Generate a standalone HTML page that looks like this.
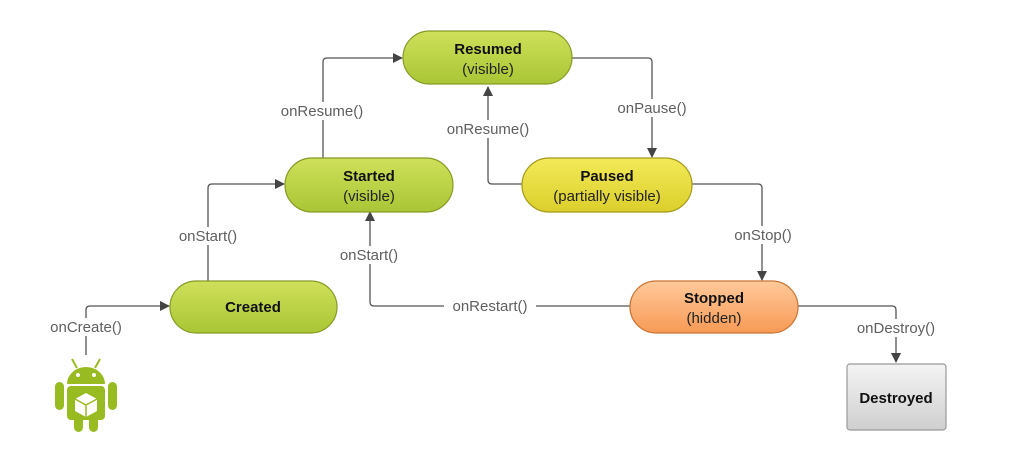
<!DOCTYPE html>
<html><head><meta charset="utf-8"><style>
html,body{margin:0;padding:0;background:#fff;width:1022px;height:465px;overflow:hidden}
text{font-family:"Liberation Sans",Arial,sans-serif}
.l{font-size:15px;fill:#5f5f5f;text-anchor:middle}
.b{font-size:15px;font-weight:bold;fill:#111;text-anchor:middle}
.n{font-size:15px;fill:#222;text-anchor:middle}
</style></head><body>
<svg width="1022" height="465" viewBox="0 0 1022 465" xmlns="http://www.w3.org/2000/svg">
<defs>
<linearGradient id="g" x1="0" y1="0" x2="0" y2="1"><stop offset="0" stop-color="#cfe05a"/><stop offset="1" stop-color="#a9c635"/></linearGradient>
<linearGradient id="y" x1="0" y1="0" x2="0" y2="1"><stop offset="0" stop-color="#f2ea58"/><stop offset="1" stop-color="#dccf2c"/></linearGradient>
<linearGradient id="o" x1="0" y1="0" x2="0" y2="1"><stop offset="0" stop-color="#ffc99a"/><stop offset="1" stop-color="#f79a55"/></linearGradient>
<linearGradient id="d" x1="0" y1="0" x2="0" y2="1"><stop offset="0" stop-color="#f4f4f4"/><stop offset="1" stop-color="#cfcfcf"/></linearGradient>
<marker id="a" markerWidth="10" markerHeight="10" refX="9" refY="5" orient="auto" markerUnits="userSpaceOnUse"><path d="M0,0 L10,5 L0,10 z" fill="#444"/></marker>
</defs>
<g fill="none" stroke="#555" stroke-width="1.3">
<path d="M86,355 V310 Q86,306 90,306 H169" marker-end="url(#a)"/>
<path d="M208,281 V188 Q208,184 212,184 H284" marker-end="url(#a)"/>
<path d="M323,158 V62 Q323,58 327,58 H402" marker-end="url(#a)"/>
<path d="M572,58 H648 Q652,58 652,62 V157" marker-end="url(#a)"/>
<path d="M522,184 H492 Q488,184 488,180 V87" marker-end="url(#a)"/>
<path d="M692,184 H758 Q762,184 762,188 V280" marker-end="url(#a)"/>
<path d="M630,306 H374 Q370,306 370,302 V212" marker-end="url(#a)"/>
<path d="M798,306 H892 Q896,306 896,310 V362" marker-end="url(#a)"/>
</g>
<g>
<rect x="42" y="318" width="88" height="18" fill="#fff"/><text x="86" y="332" class="l">onCreate()</text>
<rect x="170" y="227" width="76" height="18" fill="#fff"/><text x="208" y="241" class="l">onStart()</text>
<rect x="274" y="102" width="98" height="18" fill="#fff"/><text x="322" y="116" class="l">onResume()</text>
<rect x="610" y="99" width="84" height="18" fill="#fff"/><text x="652" y="113" class="l">onPause()</text>
<rect x="440" y="120" width="98" height="18" fill="#fff"/><text x="488" y="134" class="l">onResume()</text>
<rect x="728" y="226" width="70" height="18" fill="#fff"/><text x="763" y="240" class="l">onStop()</text>
<rect x="332" y="246" width="74" height="18" fill="#fff"/><text x="369" y="260" class="l">onStart()</text>
<rect x="444" y="297" width="92" height="18" fill="#fff"/><text x="490" y="311" class="l">onRestart()</text>
<rect x="848" y="319" width="96" height="18" fill="#fff"/><text x="896" y="333" class="l">onDestroy()</text>
</g>
<g stroke-width="1.2">
<rect x="403" y="31" width="169" height="53" rx="26.5" fill="url(#g)" stroke="#869a26"/>
<rect x="285" y="158" width="168" height="54" rx="27" fill="url(#g)" stroke="#869a26"/>
<rect x="522" y="158" width="170" height="54" rx="27" fill="url(#y)" stroke="#a39a1c"/>
<rect x="170" y="281" width="167" height="52" rx="26" fill="url(#g)" stroke="#869a26"/>
<rect x="630" y="281" width="168" height="52" rx="26" fill="url(#o)" stroke="#c87434"/>
<rect x="847" y="364" width="99" height="66" rx="3" fill="url(#d)" stroke="#999"/>
</g>
<text x="488" y="54" class="b">Resumed</text><text x="488" y="74" class="n">(visible)</text>
<text x="369" y="181" class="b">Started</text><text x="369" y="201" class="n">(visible)</text>
<text x="607" y="181" class="b">Paused</text><text x="607" y="201" class="n">(partially visible)</text>
<text x="253" y="312" class="b">Created</text>
<text x="714" y="303" class="b">Stopped</text><text x="714" y="323" class="n">(hidden)</text>
<text x="896" y="403" class="b">Destroyed</text>
<g fill="#99bb22">
<path d="M67,384 a19,17 0 0 1 38,0 z"/>
<rect x="67" y="386" width="38" height="34" rx="4"/>
<rect x="55" y="382" width="9" height="28" rx="4.5"/>
<rect x="108" y="382" width="9" height="28" rx="4.5"/>
<rect x="74" y="414" width="9" height="18" rx="4.5"/>
<rect x="89" y="414" width="9" height="18" rx="4.5"/>
<path d="M72,359 L77,368 M100,359 L95,368" stroke="#99bb22" stroke-width="2"/>
</g>
<circle cx="78" cy="375" r="2" fill="#fff"/><circle cx="94" cy="375" r="2" fill="#fff"/>
<path d="M86,393 L97,399 L97,411 L86,417 L75,411 L75,399 z" fill="#fff"/>
<path d="M75,399 L86,405 L97,399 M86,405 V417" stroke="#99bb22" stroke-width="1.5" fill="none"/>
</svg>
</body></html>
